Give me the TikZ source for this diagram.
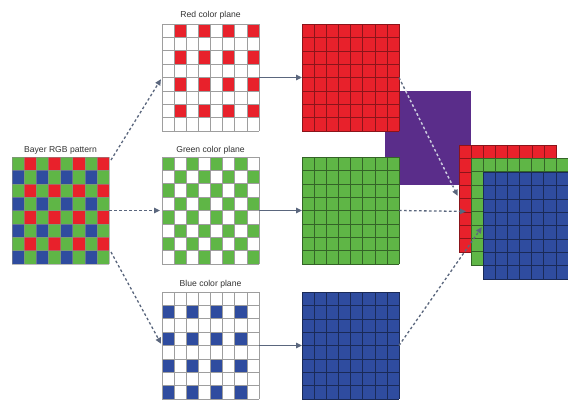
\documentclass[tikz,border=0pt]{standalone}
\usepackage{fontspec}
\setmainfont{Liberation Sans}
\usetikzlibrary{arrows.meta,calc}
\definecolor{cred}{HTML}{E8212B}
\definecolor{cgreen}{HTML}{5FB646}
\definecolor{cblue}{HTML}{2F4C9F}
\definecolor{cpurple}{HTML}{5A2D8A}
\definecolor{arrowc}{HTML}{5A667D}
\definecolor{arrowlight}{HTML}{CFC8E4}
\definecolor{lblc}{HTML}{333333}
\newcommand\gcell[5]{\fill[#5] ({#1+#3*12.125},{#2+#4*13.375}) rectangle ++(12.125,13.375);}
\newcommand\glines[3]{%
  \foreach \k in {0,...,8}{%
    \draw[#3] ({#1+\k*12.125},#2) -- ++(0,107);
    \draw[#3] (#1,{#2+\k*13.375}) -- ++(97,0);}}
\begin{document}
\begin{tikzpicture}[x=1pt,y=-1pt,
  gridbox/.style={minimum width=97pt,minimum height=107pt,inner sep=0pt,outer sep=0pt,draw=none,anchor=north west},
  lbl/.style={font=\fontsize{8.6}{10}\selectfont,text=lblc,inner sep=1pt},
  planeline/.style={draw=black!38,line width=0.6pt},
  bayerline/.style={draw=black!45,line width=0.3pt,opacity=0.6},
  redline/.style={draw=cred!60!black,line width=0.5pt},
  greenline/.style={draw=cgreen!55!black,line width=0.5pt},
  blueline/.style={draw=cblue!55!black,line width=0.5pt},
  flow/.style={draw=arrowc,line width=1.3pt,-{Triangle[length=6pt,width=5.5pt]}},
  dflow/.style={flow,dash pattern=on 2.6pt off 2.4pt},
  dlight/.style={draw=arrowlight,line width=1.4pt,dash pattern=on 2.6pt off 2.4pt}]
\clip (0,0) rectangle (568,400);
\fill[white] (0,0) rectangle (568,400);

% ---------- Bayer pattern ----------
\node[gridbox,fill=cgreen] (bayer) at (12,157) {};
\foreach \ri in {0,2,4,6}{\foreach \ci in {1,3,5,7}{\gcell{12}{157}{\ci}{\ri}{cred}}}
\foreach \ri in {1,3,5,7}{\foreach \ci in {0,2,4,6}{\gcell{12}{157}{\ci}{\ri}{cblue}}}
\glines{12}{157}{bayerline}
\node[lbl] (bayerlbl) at (60.5,150) {Bayer RGB pattern};

% ---------- colour planes ----------
\node[gridbox,fill=white] (rplane) at (162,24) {};
\foreach \ri in {0,2,4,6}{\foreach \ci in {1,3,5,7}{\gcell{162}{24}{\ci}{\ri}{cred}}}
\glines{162}{24}{planeline}
\node[lbl] (rlbl) at (210.5,15) {Red color plane};

\node[gridbox,fill=white] (gplane) at (162,157) {};
\foreach \ri in {0,2,4,6}{\foreach \ci in {0,2,4,6}{\gcell{162}{157}{\ci}{\ri}{cgreen}}}
\foreach \ri in {1,3,5,7}{\foreach \ci in {1,3,5,7}{\gcell{162}{157}{\ci}{\ri}{cgreen}}}
\glines{162}{157}{planeline}
\node[lbl] (glbl) at (210.5,150) {Green color plane};

\node[gridbox,fill=white] (bplane) at (162,292) {};
\foreach \ri in {1,3,5,7}{\foreach \ci in {0,2,4,6}{\gcell{162}{292}{\ci}{\ri}{cblue}}}
\glines{162}{292}{planeline}
\node[lbl] (blbl) at (210.5,284) {Blue color plane};

% ---------- purple square ----------
\fill[cpurple] (385,91) rectangle (471,185);

% ---------- full planes ----------
\node[gridbox,fill=cred] (rfull) at (302,24) {};
\glines{302}{24}{redline}
\node[gridbox,fill=cgreen] (gfull) at (302,157) {};
\glines{302}{157}{greenline}
\node[gridbox,fill=cblue] (bfull) at (302,292) {};
\glines{302}{292}{blueline}

% ---------- stacked planes ----------
\node[gridbox,fill=cred] (sred) at (459,145) {};
\glines{459}{145}{redline}
\node[gridbox,fill=cgreen] (sgreen) at (471,158) {};
\glines{471}{158}{greenline}
\node[gridbox,fill=cblue] (sblue) at (483,172) {};
\glines{483}{172}{blueline}

% ---------- connectors ----------
\coordinate (bnw) at ($(bayer.north east)+(2,3)$);
\coordinate (bsw) at ($(bayer.south east)+(2,-12)$);
\draw[dflow,shorten >=2pt] (bnw) -- (rplane.west);
\draw[dflow,shorten >=2pt] (bayer.east) -- (gplane.west);
\draw[dflow,shorten >=2pt] (bsw) -- (bplane.west);

\draw[flow] (rplane.east) -- (rfull.west);
\draw[flow] (gplane.east) -- (gfull.west);
\draw[flow] (bplane.east) -- (bfull.west);

\draw[dflow,shorten >=3pt] (rfull.east) -- (sred.west);
\begin{scope}
  \clip (385,91) rectangle (458,185);
  \draw[dlight] (rfull.east) -- (sred.west);
\end{scope}
\draw[dflow,shorten >=5pt] (gfull.east) -- (sgreen.west);
\draw[dflow,shorten >=2pt] (bfull.east) -- (sblue.west);
\end{tikzpicture}
\end{document}
